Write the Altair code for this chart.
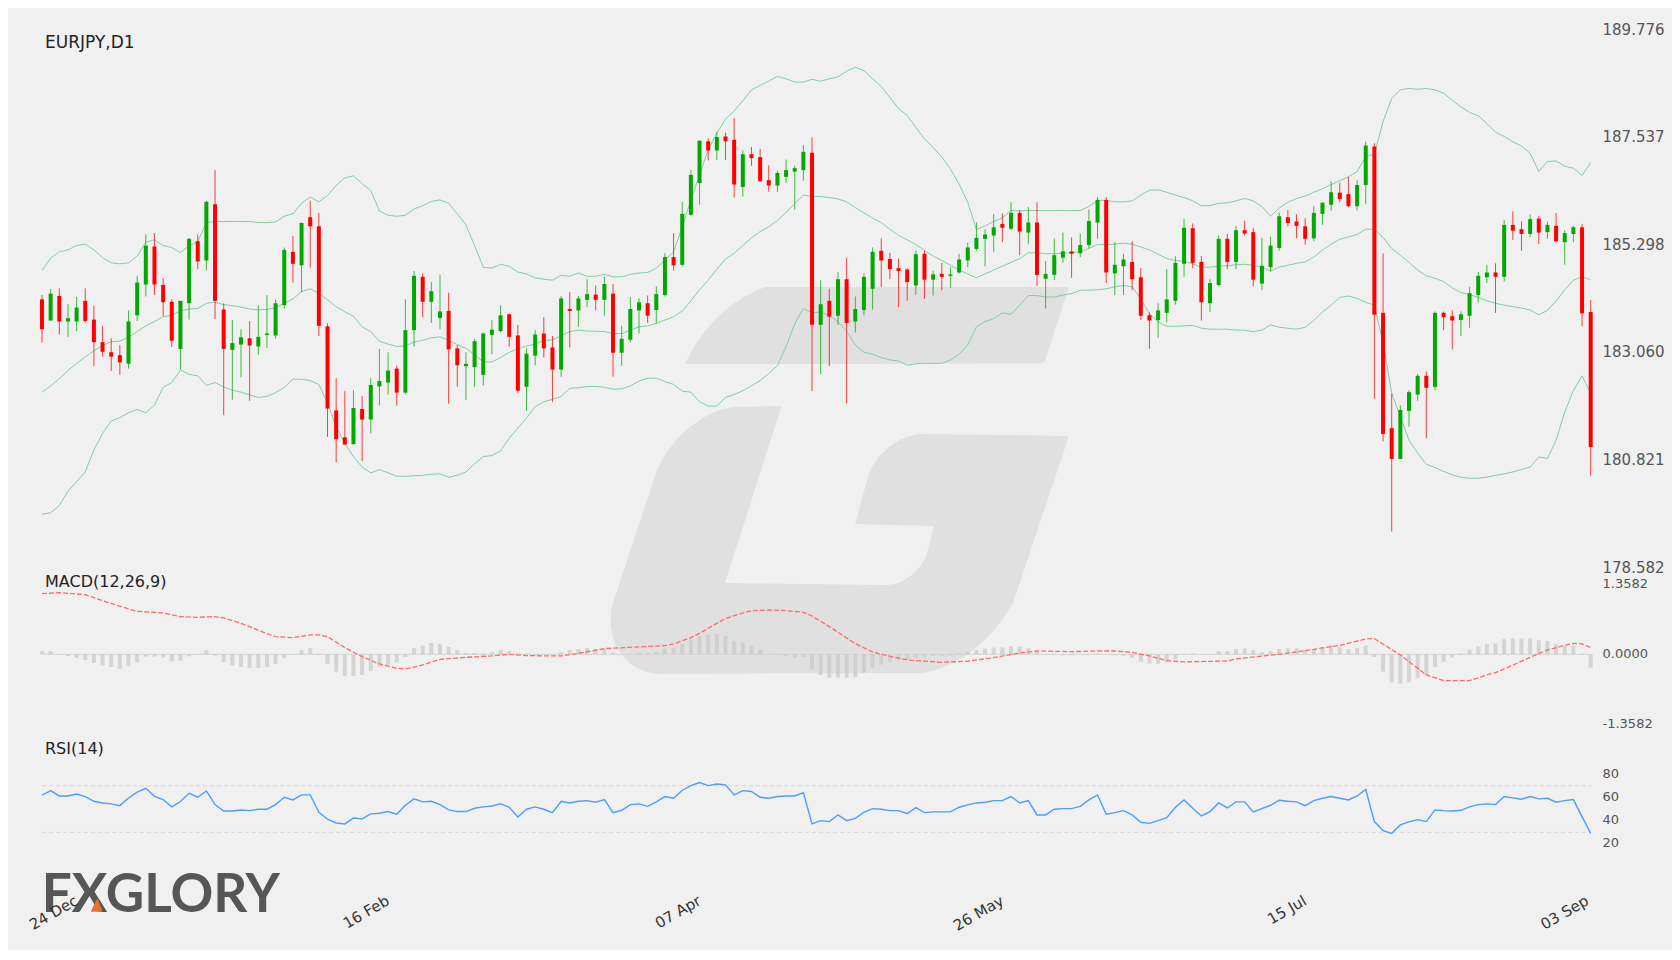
import altair as alt
import pandas as pd

opens = [184.15,183.71,184.22,183.69,183.69,184.12,183.73,183.26,183.05,182.99,
    182.81,183.82,184.46,185.25,184.45,184.10,183.12,184.07,185.36,184.96,
    186.13,183.94,183.10,183.21,183.34,183.17,183.41,183.40,184.03,185.14,
    184.86,185.86,185.67,183.59,181.84,181.28,181.14,181.87,181.65,182.34,
    182.42,182.71,182.21,183.51,184.62,184.10,183.76,183.91,183.13,182.76,
    182.74,182.58,183.41,183.49,183.84,183.40,182.33,182.98,183.44,183.15,
    182.69,183.95,183.92,184.14,184.25,184.14,184.27,183.04,183.31,183.92,
    184.07,183.93,184.24,185.03,184.87,185.91,186.57,187.44,187.25,187.54,
    187.47,186.49,187.17,187.11,186.63,186.52,186.70,186.81,186.84,187.20,
    183.62,184.12,183.81,184.57,183.69,183.93,184.37,185.16,184.99,184.80,
    184.77,184.44,185.10,184.56,184.68,184.64,184.71,184.96,185.20,185.41,
    185.48,185.72,185.62,185.95,185.54,185.75,184.58,184.66,185.02,185.15,
    185.11,185.28,185.75,186.22,184.69,184.84,184.93,184.61,183.82,183.72,
    183.87,184.12,184.89,185.63,184.93,184.07,184.45,185.41,184.93,185.59,
    185.55,184.48,184.82,185.22,185.86,185.77,185.67,185.42,185.93,186.12,
    186.37,186.34,186.09,186.53,187.33,183.87,181.47,180.83,181.83,182.17,
    182.56,182.33,183.87,183.80,183.72,183.81,184.24,184.61,184.71,184.62,
    185.70,185.61,185.51,185.83,185.55,185.68,185.34,185.51,185.65,183.89]
closes = [183.53,184.27,183.69,183.76,183.98,183.70,183.26,183.06,182.96,182.84,
    183.69,184.50,185.27,184.46,184.09,183.29,184.12,185.41,184.94,186.18,
    184.12,183.12,183.24,183.36,183.19,183.37,183.44,184.07,185.18,184.89,
    185.74,185.67,183.60,181.88,181.24,181.13,181.89,181.65,182.37,182.45,
    182.67,182.21,183.51,184.64,184.10,184.32,183.90,183.11,182.78,182.81,
    183.28,183.44,183.52,183.82,183.37,182.25,183.02,183.42,183.13,182.69,
    184.17,183.91,184.17,184.26,184.14,184.47,183.04,183.33,183.95,184.09,
    183.81,184.26,185.03,184.86,185.93,186.74,187.45,187.25,187.53,187.44,
    186.54,187.17,187.09,186.61,186.52,186.78,186.84,186.88,187.22,183.62,
    184.05,183.79,184.57,183.66,183.95,184.62,185.14,184.96,184.78,184.74,
    184.51,185.09,184.56,184.67,184.62,184.67,184.98,185.23,185.43,185.50,
    185.65,185.64,185.95,185.56,185.75,184.66,184.68,185.07,185.15,185.10,
    185.28,185.78,186.22,184.71,184.87,184.98,184.57,183.81,183.71,183.92,
    184.15,184.91,185.64,184.91,184.09,184.49,185.41,184.93,185.59,185.52,
    184.56,184.85,185.27,185.88,185.74,185.68,185.41,185.95,186.16,186.38,
    186.24,186.09,186.53,187.35,183.83,181.35,180.83,181.85,182.22,182.56,
    182.31,183.87,183.78,183.71,183.84,184.28,184.64,184.71,184.62,185.70,
    185.58,185.51,185.82,185.54,185.70,185.36,185.53,185.65,183.86,181.08]
highs = [184.24,184.37,184.38,184.05,184.20,184.38,184.02,183.60,183.34,183.20,
    183.92,184.64,185.50,185.53,184.59,184.15,184.12,185.43,185.50,186.20,
    186.84,184.07,183.72,183.53,183.70,184.03,184.24,184.15,185.23,185.47,
    185.75,186.20,185.95,183.65,182.51,182.24,182.26,182.14,182.51,183.12,
    183.05,182.77,184.15,184.74,184.69,184.51,184.66,184.29,183.20,183.05,
    183.33,183.46,183.72,184.03,183.86,183.62,183.13,183.51,183.78,183.39,
    184.22,184.30,184.22,184.57,184.44,184.62,184.47,183.60,184.20,184.17,
    184.23,184.42,185.11,185.53,186.18,186.84,187.46,187.50,187.64,187.62,
    187.92,187.25,187.32,187.28,186.94,186.83,187.06,186.93,187.36,187.52,
    184.55,184.37,184.72,185.01,184.21,184.69,185.23,185.42,185.12,185.00,
    184.80,185.17,185.17,184.75,184.91,184.82,185.10,185.33,185.75,185.61,
    185.93,185.94,186.17,186.01,186.07,186.17,184.95,185.42,185.54,185.44,
    185.52,186.02,186.28,186.28,185.34,185.10,185.36,184.80,183.88,184.07,
    184.78,185.05,185.82,185.73,185.05,184.57,185.48,185.51,185.68,185.79,
    185.64,185.43,185.45,185.96,186.01,185.92,185.84,186.09,186.17,186.61,
    186.58,186.70,186.63,187.43,187.40,185.11,182.19,181.95,182.26,182.60,
    182.65,183.90,183.90,183.92,183.90,184.41,184.72,184.87,184.90,185.80,
    185.98,185.77,185.92,185.88,185.77,185.95,185.59,185.68,185.72,184.14]
lows = [183.25,183.71,183.42,183.37,183.49,183.67,182.76,182.96,182.66,182.58,
    182.71,183.70,184.21,184.24,183.80,183.16,182.69,183.73,184.78,184.75,
    183.74,181.74,182.06,182.53,182.04,183.00,183.14,183.33,183.96,184.50,
    184.30,184.81,183.39,181.29,180.76,181.13,181.13,180.79,181.36,181.95,
    182.17,181.94,182.17,183.17,183.78,183.66,183.53,181.98,182.33,182.06,
    182.33,182.36,183.01,183.46,183.17,182.21,181.83,182.78,182.94,182.01,
    182.54,183.15,183.58,183.99,183.92,183.81,182.54,182.77,183.26,183.44,
    183.66,183.65,184.21,184.75,184.83,185.89,186.12,187.04,187.05,187.05,
    186.27,186.29,186.93,186.59,186.39,186.39,186.57,186.02,186.62,182.24,
    182.59,182.76,183.62,181.99,183.46,183.82,183.94,184.41,184.57,183.99,
    184.12,184.24,184.16,184.23,184.34,184.39,184.69,184.82,185.16,184.84,
    185.14,185.34,185.59,185.07,185.30,184.43,183.96,184.55,184.91,184.60,
    185.03,185.21,185.41,184.49,184.24,184.24,184.34,183.72,183.12,183.35,
    183.67,184.04,184.62,184.80,183.71,183.89,184.42,184.78,184.78,185.48,
    184.42,184.34,184.73,185.16,185.67,185.42,185.29,185.36,185.70,185.99,
    186.17,186.07,186.00,186.14,182.08,181.20,179.32,180.83,181.50,182.04,
    181.26,182.26,183.51,183.11,183.39,183.56,184.08,184.49,183.87,184.52,
    185.39,185.16,185.45,185.30,185.41,185.34,184.87,185.34,183.59,180.48]

band_upper = [184.75,185.01,185.14,185.18,185.27,185.30,185.18,185.02,184.91,184.89,
    184.91,185.05,185.34,185.39,185.27,185.23,185.12,185.27,185.35,185.75,
    185.77,185.77,185.77,185.77,185.77,185.75,185.75,185.76,185.88,185.93,
    186.15,186.28,186.18,186.31,186.52,186.68,186.72,186.56,186.41,185.99,
    185.90,185.88,185.90,186.03,186.10,186.19,186.22,186.15,185.93,185.70,
    185.27,184.82,184.80,184.88,184.84,184.72,184.68,184.60,184.57,184.55,
    184.65,184.63,184.70,184.63,184.63,184.67,184.62,184.62,184.67,184.70,
    184.71,184.80,184.97,185.14,185.66,186.22,186.74,187.26,187.61,187.90,
    188.07,188.28,188.51,188.60,188.69,188.79,188.74,188.67,188.67,188.73,
    188.69,188.74,188.78,188.90,188.98,188.91,188.74,188.58,188.35,188.12,
    187.98,187.73,187.49,187.31,187.11,186.86,186.55,186.17,185.60,185.68,
    185.77,185.85,186.00,185.99,186.00,186.00,186.00,186.00,186.00,186.00,
    186.00,186.08,186.21,186.21,186.18,186.18,186.20,186.32,186.42,186.43,
    186.38,186.32,186.27,186.20,186.10,186.10,186.15,186.16,186.20,186.25,
    186.20,186.08,185.88,186.05,186.17,186.25,186.30,186.38,186.45,186.54,
    186.62,186.70,186.81,187.12,187.17,187.85,188.33,188.51,188.54,188.52,
    188.54,188.51,188.44,188.29,188.16,188.04,187.97,187.81,187.63,187.54,
    187.43,187.34,187.19,186.81,187.02,187.03,186.92,186.88,186.73,186.99]
band_middle = [182.22,182.35,182.50,182.67,182.82,182.95,183.08,183.19,183.27,183.28,
    183.36,183.48,183.60,183.69,183.79,183.82,183.91,183.95,183.96,184.07,
    184.09,184.04,184.02,183.99,183.95,183.93,183.94,183.98,184.07,184.16,
    184.31,184.37,184.28,184.14,184.00,183.89,183.80,183.58,183.48,183.28,
    183.22,183.17,183.18,183.26,183.30,183.35,183.37,183.30,183.21,183.13,
    183.00,182.85,182.85,182.94,183.05,183.12,183.18,183.22,183.29,183.31,
    183.39,183.48,183.51,183.49,183.49,183.48,183.44,183.44,183.51,183.58,
    183.60,183.65,183.72,183.79,183.91,184.12,184.35,184.55,184.78,184.99,
    185.11,185.27,185.43,185.56,185.66,185.79,185.96,186.14,186.32,186.29,
    186.29,186.27,186.24,186.18,186.06,185.95,185.84,185.75,185.61,185.48,
    185.39,185.29,185.17,185.05,184.96,184.86,184.76,184.68,184.60,184.68,
    184.76,184.84,184.92,185.00,185.12,185.12,185.10,185.10,185.11,185.12,
    185.14,185.21,185.29,185.29,185.30,185.32,185.30,185.24,185.18,185.09,
    185.00,184.96,184.94,184.89,184.82,184.82,184.84,184.85,184.87,184.88,
    184.86,184.82,184.74,184.82,184.86,184.90,184.93,185.03,185.18,185.30,
    185.40,185.45,185.50,185.61,185.61,185.44,185.21,185.07,184.92,184.76,
    184.64,184.59,184.52,184.39,184.29,184.25,184.19,184.12,184.07,184.03,
    184.00,183.97,183.93,183.83,183.92,184.12,184.35,184.55,184.62,184.56]
band_lower = [179.68,179.71,179.86,180.16,180.36,180.56,181.02,181.36,181.62,181.69,
    181.79,181.86,181.79,181.95,182.32,182.42,182.68,182.59,182.56,182.36,
    182.42,182.33,182.26,182.22,182.16,182.11,182.13,182.21,182.32,182.49,
    182.49,182.46,182.38,181.99,181.50,181.15,180.88,180.66,180.54,180.61,
    180.54,180.47,180.47,180.48,180.49,180.51,180.52,180.45,180.49,180.56,
    180.73,180.88,180.90,181.00,181.26,181.47,181.68,181.92,182.02,182.07,
    182.13,182.30,182.31,182.34,182.34,182.32,182.28,182.29,182.35,182.45,
    182.51,182.51,182.44,182.38,182.24,182.22,182.02,181.93,181.93,182.11,
    182.17,182.25,182.35,182.46,182.61,182.77,183.17,183.64,183.96,183.87,
    183.89,183.81,183.69,183.49,183.20,183.05,183.01,182.94,182.89,182.87,
    182.78,182.81,182.82,182.82,182.82,182.89,183.01,183.20,183.58,183.69,
    183.75,183.87,183.84,184.03,184.23,184.23,184.20,184.20,184.24,184.27,
    184.34,184.34,184.35,184.37,184.41,184.44,184.41,184.16,183.85,183.68,
    183.59,183.59,183.60,183.61,183.55,183.53,183.53,183.53,183.51,183.51,
    183.48,183.51,183.62,183.57,183.55,183.53,183.57,183.71,183.89,184.03,
    184.19,184.22,184.17,184.09,184.03,183.24,182.20,181.71,181.22,180.95,
    180.72,180.65,180.57,180.50,180.45,180.43,180.43,180.45,180.49,180.52,
    180.56,180.61,180.66,180.87,180.84,181.22,181.81,182.25,182.56,182.20]

macd_hist = [.058,.058,0,-.032,-.071,-.110,-.168,-.219,-.245,-.277,
    -.232,-.155,-.045,-.045,-.064,-.135,-.123,-.039,0,.077,
    -.026,-.148,-.219,-.245,-.264,-.264,-.245,-.187,-.077,0,
    .077,.123,.013,-.187,-.335,-.419,-.419,-.400,-.322,-.239,
    -.206,-.155,-.052,.123,.168,.219,.200,.142,.077,.026,
    .026,.019,.039,.084,.064,.019,.019,-.006,-.006,-.006,
    .039,.084,.103,.123,.103,.103,.039,.006,.006,.026,
    .026,.045,.110,.129,.206,.297,.355,.374,.393,.355,
    .264,.219,.168,.090,.006,-.013,-.032,-.071,-.052,-.290,
    -.400,-.458,-.445,-.458,-.445,-.355,-.258,-.200,-.148,-.110,
    -.097,-.064,-.058,-.032,-.032,-.019,.019,.045,.077,.110,
    .129,.135,.155,.148,.116,.064,-.013,-.013,-.019,-.019,
    0,.006,.019,0,-.019,-.032,-.071,-.142,-.181,-.181,
    -.155,-.097,-.006,.019,0,0,.058,.058,.103,.116,
    .077,.039,.058,.097,.116,.116,.084,.097,.135,.181,
    .135,.097,.123,.168,-.052,-.335,-.548,-.567,-.542,-.464,
    -.400,-.245,-.142,-.064,.019,.090,.155,.200,.213,.290,
    .310,.310,.310,.271,.258,.193,.161,.161,.013,-.258]

signal_idx = [1,3,6,8,11,12,15,17,19,21,22,24,27,28,30,32,33,34,36,38,40,42,43,45,47,50,53,55,57,61,
    63,66,69,73,74,75,76,77,78,79,80,81,83,85,87,89,90,92,95,97,99,101,105,108,111,114,116,120,123,125,
    127,129,131,133,138,139,144,147,151,154,155,158,161,163,166,168,169,171,173,175,177,178,179,180]
signal_vals = [1.173,1.193,1.154,1.038,.877,.832,.800,.729,.716,.729,.703,.600,.400,.342,.322,.374,.374,.342,.129,-.045,-.187,-.271,-.284,-.206,-.097,-.058,-.032,0,-.026,-.032,
    .019,.110,.135,.168,.200,.264,.322,.406,.503,.600,.690,.748,.845,.858,.845,.812,.741,.535,.206,.045,-.039,-.110,-.155,-.135,-.064,.026,.064,.052,.064,.064,
    .039,-.032,-.123,-.148,-.129,-.090,0,.071,.174,.297,.303,-.013,-.400,-.509,-.509,-.400,-.355,-.210,-.058,.084,.174,.213,.200,.129]

rsi = [61.8,65.8,61.2,61.2,62.9,60.7,56.6,55.2,54.4,52.9,
    59.5,64.4,67.8,60.9,58.1,51.8,56.4,63.5,60.1,65.5,
    53.8,48.3,48.3,49.2,48.6,49.8,49.8,53.8,60.1,57.8,
    62.1,62.1,47.2,41.2,38.0,37.2,42.3,41.5,45.8,46.3,
    47.8,45.5,53.2,58.7,56.1,56.6,53.8,49.2,47.8,47.8,
    50.6,51.8,52.6,54.6,51.5,43.2,49.8,51.8,49.8,46.9,
    56.6,55.2,56.6,57.2,55.8,58.1,46.9,48.9,53.8,54.4,
    52.3,56.1,60.7,59.2,66.1,70.1,72.7,70.1,71.5,70.7,
    62.1,65.8,65.0,60.1,59.2,60.7,61.2,61.2,64.1,37.2,
    40.0,39.2,44.9,40.0,42.0,47.2,50.3,49.8,48.6,48.6,
    46.0,51.2,46.9,47.5,47.5,47.5,51.5,53.5,55.2,55.8,
    57.2,57.2,60.7,55.2,57.2,44.9,44.9,49.8,50.3,50.3,
    52.3,57.8,62.1,45.5,46.9,48.6,44.9,38.6,37.7,40.0,
    42.6,51.5,57.8,50.6,44.0,47.8,55.2,50.9,56.1,56.1,
    47.5,50.3,53.2,57.5,56.6,56.1,52.9,57.2,59.2,60.7,
    59.2,57.8,61.2,66.7,39.2,31.4,29.1,36.3,38.9,40.9,
    39.2,49.2,48.6,48.3,48.9,51.8,53.8,54.4,53.8,60.7,
    59.5,58.4,60.7,58.7,59.2,55.8,57.2,58.1,43.5,29.1]

date_idx = [5, 41, 77, 112, 147, 179.6]
date_labels = ["24 Dec", "16 Feb", "07 Apr", "26 May", "15 Jul", "03 Sep"]
price_ticks = [189.776, 187.537, 185.298, 183.060, 180.821, 178.582]
macd_ticks = [1.3582, 0.0, -1.3582]
rsi_ticks = [80, 60, 40, 20]
rsi_levels = [70, 30]

bars = pd.DataFrame({"i": range(1, 181), "open": opens, "close": closes, "high": highs, "low": lows,
                     "upper": band_upper, "middle": band_middle, "lower": band_lower,
                     "hist": macd_hist, "rsi": rsi})
bars["dir"] = ["up" if c >= o else "down" for o, c in zip(opens, closes)]
signal = pd.DataFrame({"i": signal_idx, "signal": signal_vals})
dates = pd.DataFrame({"i": date_idx, "label": date_labels})
levels = pd.DataFrame({"level": rsi_levels * 2, "i": [1, 1, 180, 180]})
one = pd.DataFrame({"a": [0]})

FONT = "DejaVu Sans"
GREEN = "#00a800"
RED = "#ff0000"

x_scale = alt.Scale(domain=[1, 180], range=[34, 1582.7], nice=False, zero=False, padding=0)
x_enc = alt.X("i:Q", scale=x_scale, axis=None)
price_scale = alt.Scale(domain=[178.582, 189.776], range=[559, 21], nice=False, zero=False)
macd_scale = alt.Scale(domain=[-1.3582, 1.3582], range=[716.5, 576.1], nice=False, zero=False)
rsi_scale = alt.Scale(domain=[20, 80], range=[835.95, 766.05], nice=False, zero=False)
dir_color = alt.Color("dir:N", scale=alt.Scale(domain=["up", "down"], range=[GREEN, RED]), legend=None)


def right_axis(values, fmt, size, shift=0):
    return alt.Axis(orient="right", values=values, format=fmt, title=None, domain=False, ticks=False,
                    grid=False, labelPadding=0, labelFont=FONT, labelFontSize=size, labelColor="#555555",
                    labelOverlap=False, labelFlush=False, labelOffset=shift,
                    labelExpr="replace(datum.label, '\u2212', '-')")


def label(text, x, y, size=16, color="#222222"):
    return alt.Chart(pd.DataFrame({"t": [text]})).mark_text(
        align="left", baseline="middle", font=FONT, fontSize=size, color=color
    ).encode(text="t:N", x=alt.value(x), y=alt.value(y))


# grey "G" watermark behind everything, pixels relative to the top left of the chart
watermark = alt.Chart(one).mark_point(
    filled=True, fill="#e0e0e0", fillOpacity=1, strokeWidth=0, size=4,
    shape="M677 356C695 318 722 292 757 279L1061 279L1037 353Q1036 355 1032 355.5L677 356Z"
          "M773.7 397.7L725 399C705 402 693 411 682 419C668 430 657 445 649 462L605 595"
          "Q601 608 604 625C607 645 625 664 650 666"
          "L915 665C949 659 982 635 1005 595L1061 428L912 426C890 428 868 445 860 469L847 516L926 518"
          "L919 545C914 562 895 577 879 577L717 575L773.7 397.7Z"
).encode(x=alt.value(0), y=alt.value(0))

band_layers = [
    alt.Chart(bars).mark_line(color="#82cfa0", strokeWidth=1).encode(
        x=x_enc, y=alt.Y(f"{name}:Q", scale=price_scale, axis=None))
    for name in ["upper", "middle", "lower"]
]
wicks = alt.Chart(bars).mark_rule(strokeWidth=1, opacity=0.75).encode(
    x=x_enc,
    y=alt.Y("high:Q", scale=price_scale, axis=right_axis(price_ticks, ".3f", 15)),
    y2="low:Q",
    color=dir_color)
bodies = alt.Chart(bars).mark_bar(size=4, orient="vertical").encode(
    x=x_enc, y=alt.Y("open:Q", scale=price_scale, axis=None), y2="close:Q", color=dir_color)

macd_bars = alt.Chart(bars).mark_bar(size=4, orient="vertical", color="#c8c8c8", opacity=0.7).encode(
    x=x_enc, y=alt.Y("hist:Q", scale=macd_scale, axis=right_axis(macd_ticks, ".4f", 13, -1)))
macd_zero = alt.Chart(bars).mark_rule(color="#d4d4d4", strokeWidth=1).encode(
    x=alt.X("min(i):Q", scale=x_scale, axis=None), x2="max(i):Q", y=alt.value(646.3))
macd_signal = alt.Chart(signal).mark_line(color="#ff6b6b", strokeWidth=1.3, strokeDash=[5, 2]).encode(
    x=x_enc, y=alt.Y("signal:Q", scale=macd_scale, axis=None))

rsi_guides = alt.Chart(levels).mark_line(color="#d6d6d6", strokeWidth=1, strokeDash=[4, 3]).encode(
    x=x_enc, y=alt.Y("level:Q", scale=rsi_scale, axis=None), detail="level:N")
rsi_line = alt.Chart(bars).mark_line(color="#4a9eff", strokeWidth=1.4).encode(
    x=x_enc, y=alt.Y("rsi:Q", scale=rsi_scale, axis=right_axis(rsi_ticks, "d", 13, -1)))

date_text = alt.Chart(dates).mark_text(
    align="right", baseline="middle", angle=330, font=FONT, fontSize=15, color="#333333"
).encode(x=x_enc, y=alt.value(891.5), text="label:N")

logo = alt.Chart(pd.DataFrame({"t": ["FXGLORY"]})).mark_text(
    align="left", baseline="alphabetic", font="Lato", fontSize=53,
    fontWeight="bold", color="#555756"
).encode(text="t:N", x=alt.value(33.7), y=alt.value(903.7))
logo_mark = alt.Chart(one).mark_point(
    filled=True, fill="#e8722a", fillOpacity=1, strokeWidth=0, size=4,
    shape="M82.7 903.7L89.3 890.3L94.7 903.7Z"
).encode(x=alt.value(0), y=alt.value(0))

chart = alt.layer(
    watermark,
    *band_layers,
    wicks,
    bodies,
    macd_zero,
    macd_bars,
    macd_signal,
    rsi_guides,
    rsi_line,
    label("EURJPY,D1", 37, 35, size=17),
    label("MACD(12,26,9)", 37, 574),
    label("RSI(14)", 37, 741),
    logo,
    logo_mark,
    date_text,
).resolve_scale(y="independent").properties(
    width=1594,
    height=942,
    background="#f0f0f0",
    padding={"left": 0, "top": 0, "right": 70, "bottom": 0},
    autosize=alt.AutoSizeParams(type="none"),
).configure_view(stroke=None)

chart.save("out.html", embed_options={"renderer": "svg", "actions": False})
